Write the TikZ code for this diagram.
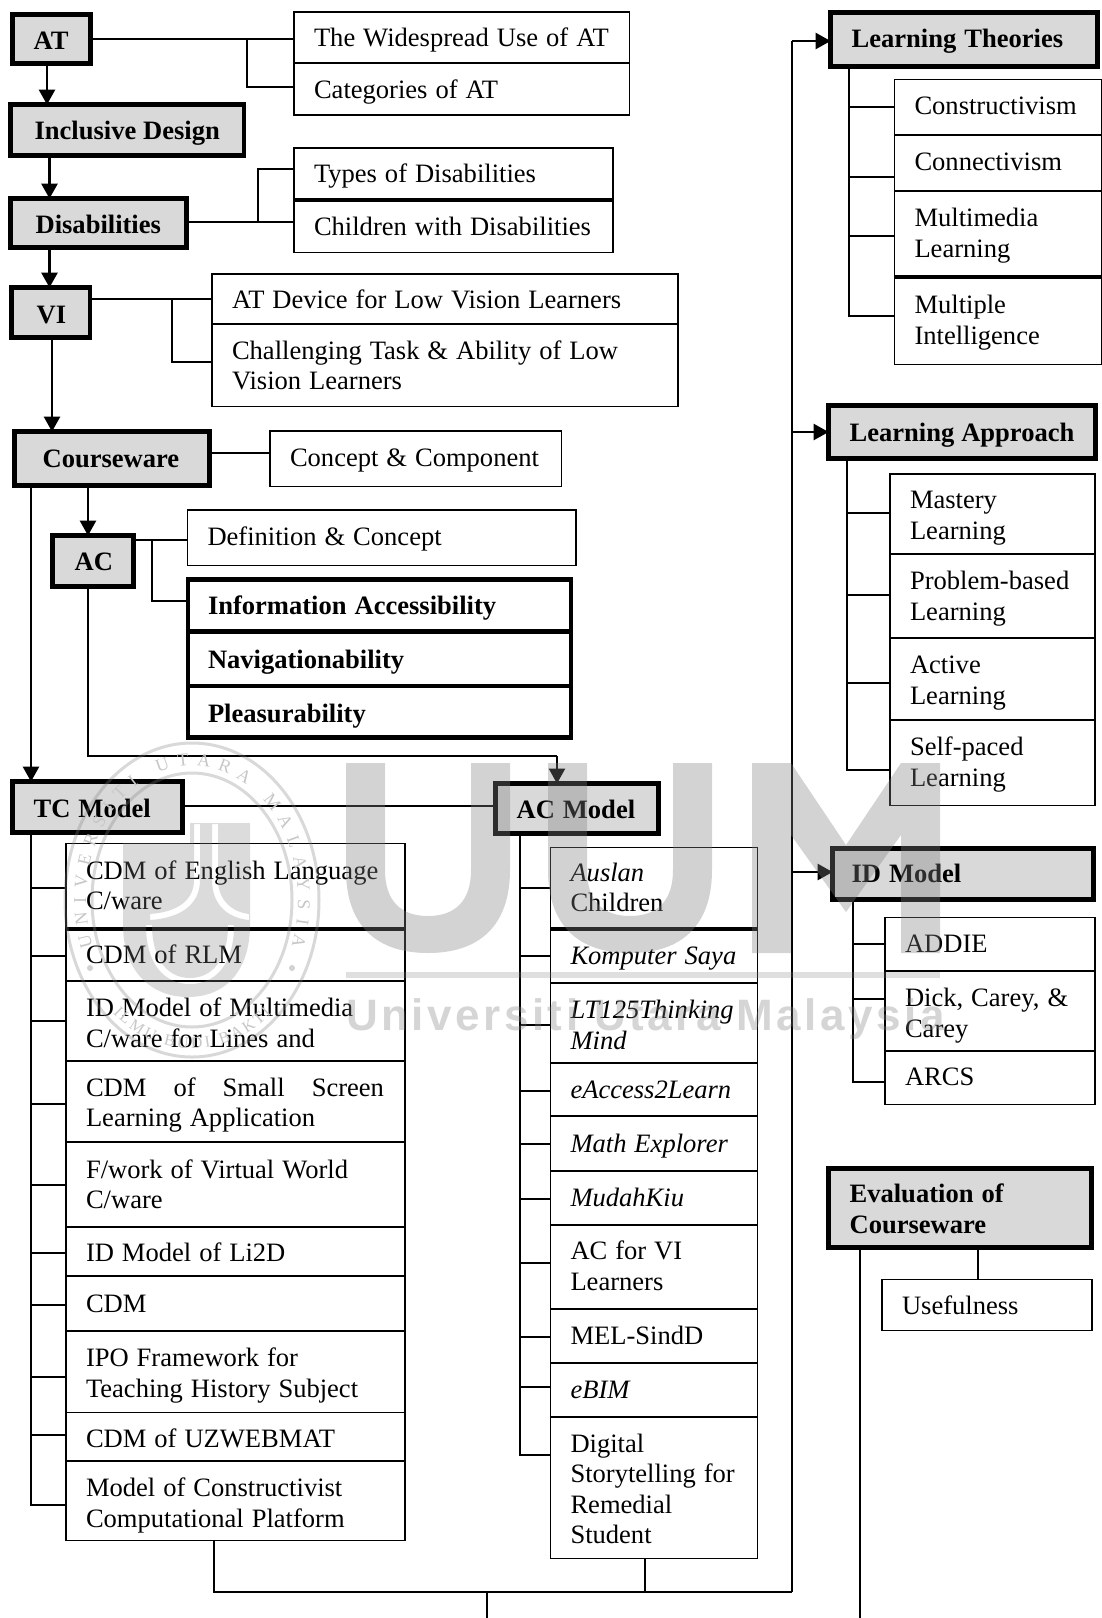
\documentclass[tikz,border=0pt]{standalone}
\usepackage{fontspec}
\setmainfont[WordSpace=1.2]{Liberation Serif}
\newfontfamily\wmfont[LetterSpace=8]{Liberation Sans}
\usetikzlibrary{arrows.meta,decorations.text}
\definecolor{hdgray}{HTML}{D9D9D9}
\definecolor{wmgray}{gray}{0.5}
\definecolor{sealtext}{gray}{0.78}
\newcommand{\dgfont}{\fontsize{26.55}{30.5}\selectfont}
\tikzset{
  cell/.style={draw=black,rectangle,anchor=north west,inner ysep=0pt,outer sep=0pt,align=flush left,font=\dgfont,
    execute at begin node={\rule{0pt}{25.4pt}},execute at end node={\rule[-9.15pt]{0pt}{0pt}}},
  dn/.style={execute at begin node={\rule{0pt}{\dimexpr25.4pt+#1pt*2\relax}}},
  up/.style={execute at end node={\rule[\dimexpr-9.15pt-#1pt*2\relax]{0pt}{0pt}}},
  plainbox/.style={cell,line width=1.8pt,fill=white},
  boldbox/.style={cell,line width=4.6pt,fill=white,font=\dgfont\bfseries},
  headbox/.style={cell,line width=4.8pt,fill=hdgray,font=\dgfont\bfseries},
  conn/.style={draw=black,line width=1.9pt},
  arr/.style={draw=black,line width=2.6pt,-{Triangle[length=15pt,width=16pt]}},
  divider/.style={draw=black,line width=3.6pt},
  wm/.style={fill=wmgray,fill opacity=.35,draw=none},
  wmline/.style={draw=wmgray,draw opacity=.3,fill=none}
}
% [inset]{style}{name}{x1}{y1}{x2}{y2}{text}
\newcommand{\bx}[8][20]{%
  \pgfmathsetmacro{\bxw}{#6-#4}\pgfmathsetmacro{\bxh}{#7-#5}\pgfmathsetmacro{\bxt}{#6-#4-2*#1}%
  \node[#2,inner xsep=#1pt,minimum width=\bxw pt,minimum height=\bxh pt,text width=\bxt pt] (#3) at (#4,#5) {#8};}
% header box given by its outer edges
\newcommand{\hd}[8][20]{%
  \pgfmathsetmacro{\hxa}{#4+1.6}\pgfmathsetmacro{\hya}{#5+1.6}\pgfmathsetmacro{\hxb}{#6-1.6}\pgfmathsetmacro{\hyb}{#7-1.6}%
  \bx[#1]{headbox,#2}{#3}{\hxa}{\hya}{\hxb}{\hyb}{#8}}
\begin{document}
\begin{tikzpicture}[x=1pt,y=-1pt]
\useasboundingbox (0,0) rectangle (1102,1618);
% ---------- headers
\hd[21]{dn=2}{at}{11}{13}{92}{65}{AT}
\hd[24]{dn=1.5}{incl}{9}{103}{245.5}{157}{Inclusive~Design}
\hd[25]{dn=2}{dis}{9}{197}{188}{249}{Disabilities}
\hd[25]{dn=3}{vi}{10}{286}{91.5}{339}{VI}
\hd[28]{dn=1}{cw}{13}{430}{211}{487}{Courseware}
\hd[22]{dn=1}{ac}{51}{534}{135}{588}{AC}
\hd[21]{dn=2}{tc}{11}{780}{184}{834}{TC~Model}
\hd[21]{dn=1.5}{acm}{494}{782}{660}{835}{AC~Model}
\hd[21]{dn=0}{lt}{829}{11}{1099}{68}{Learning~Theories}
\hd[21]{dn=1}{la}{827}{404}{1097}{460}{Learning~Approach}
\hd[19]{dn=0}{idm}{831}{847}{1095}{901}{ID~Model}
\hd[21]{dn=2}{ev}{827}{1167}{1093}{1249}{Evaluation of\\Courseware}
% ---------- upper left lists
\bx{plainbox,dn=1}{wide}{294}{12}{629.5}{63}{The~Widespread~Use~of~AT}
\bx{plainbox,dn=1}{cat}{294}{63}{629.5}{115}{Categories of AT}
\bx{plainbox}{types}{294}{148}{613}{200}{Types of Disabilities}
\bx{plainbox,dn=1.5}{child}{294}{200}{613}{252.5}{Children~with~Disabilities}
\bx{plainbox,dn=1}{atd}{212}{274}{678}{324}{AT Device for Low Vision Learners}
\bx{plainbox,dn=1}{chal}{212}{324}{678}{406.5}{Challenging Task \& Ability of Low\\Vision Learners}
\bx{plainbox}{conc}{270}{431}{561.5}{486.5}{Concept \& Component}
\bx{plainbox}{defn}{187.5}{510}{576}{565.5}{Definition \& Concept}
\bx[20]{boldbox,dn=1}{info}{188}{579.5}{571}{631.5}{Information Accessibility}
\bx[20]{boldbox,dn=2}{nav}{188}{631.5}{571}{686}{Navigationability}
\bx[20]{boldbox,dn=3}{plea}{188}{686}{571}{737.5}{Pleasurability}
% ---------- TC list
\bx{plainbox}{t1}{66}{843.5}{405}{929}{CDM of English Language\\C/ware}
\bx{plainbox}{t2}{66}{929}{405}{981}{CDM of RLM}
\bx{plainbox,dn=3}{t3}{66}{981}{405}{1061}{ID Model of Multimedia\\C/ware for Lines and}
\bx{plainbox,dn=2}{t4}{66}{1061}{405}{1142}{\makebox[298pt][s]{CDM\hfill of\hfill Small\hfill Screen}\\Learning Application}
\bx{plainbox,dn=1}{t5}{66}{1142}{405}{1227}{F/work of Virtual World\\C/ware}
\bx{plainbox,dn=2}{t6}{66}{1227}{405}{1276}{ID Model of Li2D}
\bx{plainbox,dn=1}{t7}{66}{1276}{405}{1331}{CDM}
\bx{plainbox,dn=2}{t8}{66}{1331}{405}{1412.5}{IPO Framework for\\Teaching History Subject}
\bx{plainbox,dn=3}{t9}{66}{1412.5}{405}{1461}{CDM of UZWEBMAT}
\bx{plainbox,dn=3}{t10}{66}{1461}{405}{1540.5}{Model of Constructivist\\Computational Platform}
% ---------- AC list
\bx{plainbox}{a1}{550.5}{847.5}{757.5}{929}{\textit{Auslan}\\Children}
\bx{plainbox}{a2}{550.5}{929}{757.5}{983}{\textit{Komputer~Saya}}
\bx{plainbox,dn=3}{a3}{550.5}{983}{757.5}{1063}{\textit{LT125Thinking}\\\textit{Mind}}
\bx{plainbox,dn=1}{a4}{550.5}{1063}{757.5}{1116}{\textit{eAccess2Learn}}
\bx{plainbox,dn=1}{a5}{550.5}{1116}{757.5}{1171}{\textit{Math~Explorer}}
\bx{plainbox}{a6}{550.5}{1171}{757.5}{1225}{\textit{MudahKiu}}
\bx{plainbox}{a7}{550.5}{1225}{757.5}{1309}{AC~for~VI\\Learners}
\bx{plainbox}{a8}{550.5}{1309}{757.5}{1363}{MEL-SindD}
\bx{plainbox}{a9}{550.5}{1363}{757.5}{1417}{\textit{eBIM}}
\bx{plainbox,dn=2}{a10}{550.5}{1417}{757.5}{1558.5}{Digital\\Storytelling~for\\Remedial\\Student}
% ---------- right lists
\bx{plainbox,up=1}{l1}{894.5}{79.5}{1102}{135}{Constructivism}
\bx{plainbox,up=1}{l2}{894.5}{135}{1102}{191}{Connectivism}
\bx{plainbox}{l3}{894.5}{191}{1102}{277}{Multimedia\\Learning}
\bx{plainbox}{l4}{894.5}{277}{1102}{364.5}{Multiple\\Intelligence}
\bx{plainbox,dn=2}{p1}{890}{474}{1095}{554}{Mastery\\Learning}
\bx{plainbox,dn=1}{p2}{890}{554}{1095}{638}{Problem-based\\Learning}
\bx{plainbox,dn=2}{p3}{890}{638}{1095}{720}{Active\\Learning}
\bx{plainbox}{p4}{890}{720}{1095}{805.5}{Self-paced\\Learning}
\bx{plainbox}{d1}{885}{917.5}{1095}{971}{ADDIE}
\bx{plainbox,dn=3}{d2}{885}{971}{1095}{1051}{Dick,~Carey,~\&\\Carey}
\bx{plainbox}{d3}{885}{1051}{1095}{1104.5}{ARCS}
\bx{plainbox,dn=1}{use}{882}{1279.5}{1092}{1330.5}{Usefulness}
% ---------- heavier dividers
\draw[divider] (types.south west) -- (types.south east);
\draw[divider] (l3.south west) -- (l3.south east);
\draw[divider] (a1.south west) -- (a1.south east);
\draw[divider] (t1.south west) -- (t1.south east);
% ---------- free ends
\coordinate (busl) at (214,1592);
\coordinate (busr) at (792,1592);
\coordinate (busm) at (487,1592);
\coordinate (busa) at (645,1592);
\coordinate (downm) at (487,1618);
\coordinate (downe) at (860,1618);
% ---------- arrows, left column
\draw[arr] (at.south -| 47,0) -- (incl.north -| 47,0);
\draw[arr] (incl.south -| 49.5,0) -- (dis.north -| 49.5,0);
\draw[arr] (dis.south -| 49.5,0) -- (vi.north -| 49.5,0);
\draw[arr] (vi.south -| 52,0) -- (cw.north -| 52,0);
\draw[arr] (cw.south -| 88,0) -- (ac.north -| 88,0);
\draw[arr] (cw.south -| 31,0) -- (tc.north -| 31,0);
% ---------- branches
\draw[conn] (at.east |- 0,39) -- (wide.west |- 0,39);
\draw[conn] (247,39) |- (cat.west |- 0,87);
\draw[conn] (dis.east |- 0,222) -- (child.west |- 0,222);
\draw[conn] (258,222) |- (types.west |- 0,169);
\draw[conn] (vi.east |- 0,299) -- (atd.west |- 0,299);
\draw[conn] (172,299) |- (chal.west |- 0,362);
\draw[conn] (cw.east |- 0,453) -- (conc.west |- 0,453);
\draw[conn] (ac.east |- 0,540) -- (defn.west |- 0,540);
\draw[conn] (152,540) |- (info.west |- 0,601);
\draw[conn] (tc.east |- 0,806) -- (acm.west |- 0,806);
\draw[conn] (ac.south -| 88,0) -- (88,756) -- (557,756);
\draw[arr,line width=2pt] (557,756) -- (acm.north -| 557,0);
% ---------- TC trunk
\draw[conn] (tc.south -| 31,0) |- (t10.west |- 0,1505);
\foreach \nm/\yy in {t1/888,t2/956,t3/1021,t4/1104,t5/1185,t6/1253,t7/1305,t8/1377,t9/1435}
  \draw[conn] (31,\yy) -- (\nm.west |- 0,\yy);
% ---------- AC trunk
\draw[conn] (acm.south -| 520,0) |- (a10.west |- 0,1455);
\foreach \nm/\yy in {a1/888,a2/956,a3/1025,a4/1091,a5/1144,a6/1199,a7/1263,a8/1337,a9/1387}
  \draw[conn] (520,\yy) -- (\nm.west |- 0,\yy);
% ---------- right trunks
\draw[conn] (lt.south -| 849,0) |- (l4.west |- 0,316);
\foreach \nm/\yy in {l1/107,l2/177,l3/236}
  \draw[conn] (849,\yy) -- (\nm.west |- 0,\yy);
\draw[conn] (la.south -| 847,0) |- (p4.west |- 0,770);
\foreach \nm/\yy in {p1/513,p2/595,p3/683}
  \draw[conn] (847,\yy) -- (\nm.west |- 0,\yy);
\draw[conn] (idm.south -| 853,0) |- (d3.west |- 0,1082);
\foreach \nm/\yy in {d1/944,d2/999}
  \draw[conn] (853,\yy) -- (\nm.west |- 0,\yy);
\draw[conn] (ev.south -| 978,0) -- (use.north -| 978,0);
\draw[conn] (ev.south -| 860,0) -- (downe);
% ---------- bottom bus and main riser
\draw[conn] (t10.south -| busl) -- (busl) -- (busr);
\draw[conn] (a10.south -| busa) -- (busa);
\draw[conn] (busm) -- (downm);
\draw[conn] (busr) -- (792,41);
\draw[arr] (792,41) -- (lt.west |- 0,41);
\draw[arr] (792,432) -- (la.west |- 0,432);
\draw[arr] (792,872) -- (idm.west |- 0,872);
% ---------- watermark
\path[wm] (346,763) -- (385,763) -- (385,870) .. controls (385,900) and (400,916) .. (428,916) .. controls (456,916) and (471,900) .. (471,870) -- (471,763) -- (510,763) -- (510,870) .. controls (510,925) and (480,953) .. (428,953) .. controls (376,953) and (346,925) .. (346,870) -- cycle;
\path[wm] (548,763) -- (587,763) -- (587,870) .. controls (587,900) and (602,916) .. (630,916) .. controls (658,916) and (673,900) .. (673,870) -- (673,763) -- (712,763) -- (712,870) .. controls (712,925) and (682,953) .. (630,953) .. controls (578,953) and (548,925) .. (548,870) -- cycle;
\path[wm] (752,763) -- (791,763) -- (846,845) -- (901,763) -- (940,763) -- (940,953) -- (901,953) -- (901,835) -- (846,912) -- (791,835) -- (791,953) -- (752,953) -- cycle;
\path[wm,fill opacity=.25] (346,972) rectangle (940,978);
\node[text=wmgray,text opacity=.33,anchor=base west,inner sep=0pt,font=\wmfont\bfseries\fontsize{44}{44}\selectfont] (wmt) at (346,1030) {Universiti Utara Malaysia};
% seal
\draw[wmline,line width=3pt] (192,900) ellipse [x radius=127pt,y radius=157pt];
\draw[wmline,line width=3pt] (192,900) ellipse [x radius=100pt,y radius=127pt];
\path[wm,fill opacity=.28,even odd rule]
  (123,843) -- (123,925) .. controls (123,970) and (150,997) .. (188,997) .. controls (226,997) and (250,970) .. (250,925) -- (250,823) -- (190,823) -- (190,843) -- cycle
  (194,824) -- (200,824) -- (200,880) .. controls (200,905) and (180,918) .. (150,920) -- (150,914) .. controls (178,912) and (194,900) .. (194,880) -- cycle
  (212,824) -- (218,824) -- (218,880) .. controls (218,900) and (232,912) .. (249,914) -- (249,920) .. controls (228,918) and (212,905) .. (212,880) -- cycle
  (146,925) .. controls (146,965) and (165,984) .. (190,984) .. controls (215,984) and (234,965) .. (234,925) -- (228,925) .. controls (228,960) and (212,978) .. (190,978) .. controls (168,978) and (152,960) .. (152,925) -- cycle;
\path[wm] (90,968) circle [radius=3pt] (292,968) circle [radius=3pt];
\path[decorate,decoration={text along path,text align={fit to path},raise=-8pt,
  text={|\color{sealtext}\fontsize{18}{18}\selectfont|UNIVERSITI UTARA MALAYSIA}}]
  (85,948) arc [start angle=200,end angle=-20,x radius=114pt,y radius=142pt];
\path[decorate,decoration={text along path,text align={fit to path},raise=-6pt,
  text={|\color{sealtext}\fontsize{16}{16}\selectfont|ILMU BUDI BAKTI}}]
  (117,1009) arc [start angle=230,end angle=310,x radius=117pt,y radius=142pt];
\end{tikzpicture}
\end{document}
